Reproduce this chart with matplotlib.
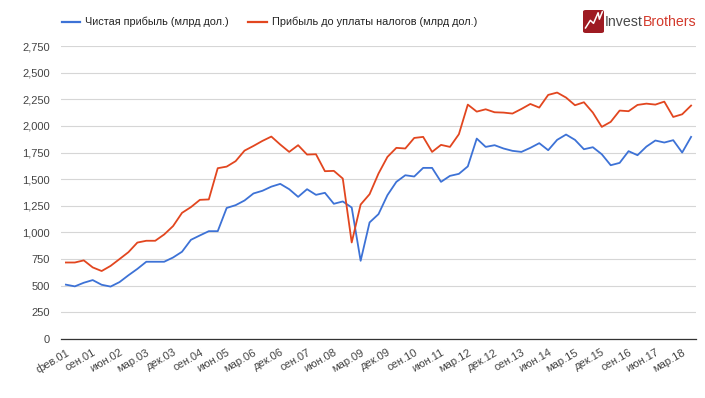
import numpy as np
import matplotlib
matplotlib.use("Agg")
import matplotlib.pyplot as plt
from matplotlib.ticker import FuncFormatter
from matplotlib.patches import FancyBboxPatch
from matplotlib.lines import Line2D

# Quarterly values (bn USD)
net_profit = [510, 494, 528, 553, 509, 492, 534, 598, 658, 725,
              725, 725, 765, 819, 931, 972, 1012, 1012, 1230, 1256,
              1300, 1366, 1391, 1430, 1456, 1406, 1334, 1406, 1353, 1372,
              1269, 1291, 1234, 734, 1094, 1172, 1350, 1475, 1537, 1525,
              1606, 1606, 1475, 1531, 1550, 1620, 1881, 1803, 1819, 1788,
              1766, 1756, 1794, 1838, 1772, 1869, 1919, 1869, 1781, 1800,
              1734, 1631, 1653, 1763, 1725, 1806, 1863, 1844, 1866, 1750, 1897]

pretax_profit = [718, 718, 738, 672, 638, 686, 750, 815, 905, 922,
                 922, 981, 1060, 1184, 1238, 1306, 1310, 1603, 1618, 1669,
                 1768, 1812, 1859, 1900, 1825, 1756, 1819, 1731, 1734, 1575,
                 1578, 1506, 906, 1262, 1359, 1553, 1709, 1794, 1788, 1887,
                 1897, 1756, 1822, 1803, 1922, 2200, 2134, 2156, 2128, 2125,
                 2116, 2159, 2206, 2172, 2291, 2313, 2266, 2194, 2222, 2125,
                 1991, 2038, 2144, 2138, 2197, 2209, 2200, 2228, 2084, 2109, 2191]

tick_labels = ['фев.01', 'сен.01', 'июн.02', 'мар.03', 'дек.03', 'сен.04',
               'июн.05', 'мар.06', 'дек.06', 'сен.07', 'июн.08', 'мар.09',
               'дек.09', 'сен.10', 'июн.11', 'мар.12', 'дек.12', 'сен.13',
               'июн.14', 'мар.15', 'дек.15', 'сен.16', 'июн.17', 'мар.18']

series_names = ['Чистая прибыль (млрд дол.)', 'Прибыль до уплаты налогов (млрд дол.)']

BLUE = '#3d72d6'
RED = '#e2461f'
W, H = 705, 398

plt.rcParams['font.family'] = ['Liberation Sans', 'DejaVu Sans']


def px(x, y):
    # pixel position (from top-left) -> figure fraction
    return x / W, (H - y) / H


def draw_logo(fig):
    x0, y0 = px(583, 33)
    w, h = 21 / W, 23 / H
    fig.patches.append(FancyBboxPatch((x0, y0), w, h, boxstyle="round,pad=0,rounding_size=0.004",
                                      transform=fig.transFigure, facecolor='#9e1b22',
                                      edgecolor='none'))
    zx = np.array([0.12, 0.35, 0.5, 0.72, 0.78, 0.92])
    zy = np.array([0.22, 0.55, 0.42, 0.88, 0.6, 0.92])
    fig.lines.append(Line2D(x0 + zx * w, y0 + zy * h, transform=fig.transFigure,
                            color='white', lw=1.1))
    tx, ty = px(605, 22)
    t1 = fig.text(tx, ty, 'Invest', color='#4a4a4a', fontsize=10.2, va='center', ha='left')
    fig.canvas.draw()
    bb = t1.get_window_extent()
    fig.text(bb.x1 / W, ty, 'Brothers', color='#d33a2c', fontsize=10.2, va='center', ha='left')


def draw_legend(fig):
    y = 22
    for (x1, x2, xt), name, col in zip([(62, 80, 85), (248, 267, 272)], series_names, [BLUE, RED]):
        a, b = px(x1, y), px(x2, y)
        fig.lines.append(Line2D([a[0], b[0]], [a[1], b[1]], transform=fig.transFigure,
                                color=col, lw=1.6))
        tx, ty = px(xt, y)
        fig.text(tx, ty, name, color='#222222', fontsize=7.8, va='center', ha='left')


def main():
    fig = plt.figure(figsize=(W / 100, H / 100), dpi=100)
    left, bottom = px(61, 339)
    right, top = px(696, 46)
    ax = fig.add_axes([left, bottom, right - left, top - bottom])

    x = np.arange(len(net_profit))
    ax.plot(x, net_profit, color=BLUE, lw=1.3, zorder=3)
    ax.plot(x, pretax_profit, color=RED, lw=1.3, zorder=3)

    ax.set_xlim(-0.55, len(x) - 0.45)
    ax.set_ylim(0, 2750)
    ax.set_yticks(np.arange(0, 2751, 250))
    ax.yaxis.set_major_formatter(FuncFormatter(lambda v, p: f'{v:,.0f}'))
    ax.grid(axis='y', color='#d6d6d6', lw=0.8)
    ax.set_axisbelow(True)

    ax.set_xticks(x[::3])
    ax.set_xticklabels(tick_labels, rotation=30, ha='right', rotation_mode='anchor')

    ax.tick_params(axis='both', length=0, colors='#444444', labelsize=8)
    ax.tick_params(axis='y', pad=8)
    ax.tick_params(axis='x', pad=6)

    for s in ['top', 'right', 'left']:
        ax.spines[s].set_visible(False)
    ax.spines['bottom'].set_color('#333333')
    ax.spines['bottom'].set_linewidth(0.9)

    draw_legend(fig)
    draw_logo(fig)

    fig.savefig('out.png', dpi=100, facecolor='white')


if __name__ == "__main__":
    main()
